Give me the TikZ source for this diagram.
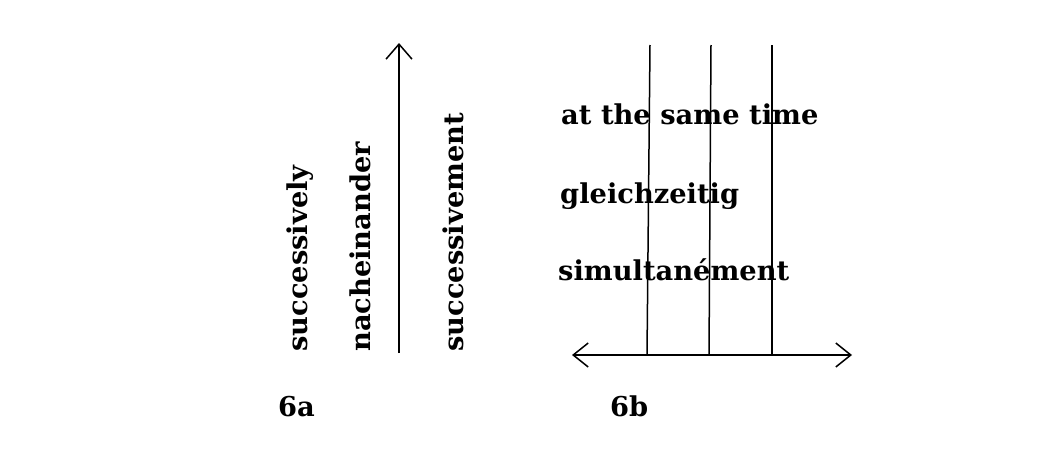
\documentclass[tikz,border=0pt]{standalone}
\usepackage{fontspec}
\setmainfont{DejaVu Serif}
\usetikzlibrary{arrows.meta}
\tikzset{
  lbl/.style={font=\bfseries\fontsize{27.3}{29}\selectfont, inner sep=0pt},
  vlbl/.style={lbl, rotate=90, anchor=base west},
  hlbl/.style={lbl, anchor=base west},
  ln/.style={line width=1.5pt},
  tip/.style={-{Straight Barb[length=15pt,width=26pt,line width=1.5pt]}},
}
\begin{document}
\begin{tikzpicture}[x=1pt,y=-1pt]
\useasboundingbox (0,0) rectangle (1042,461);
% 6a
\coordinate (a0) at (399,353);
\coordinate (a1) at (399,43);
\draw[ln,tip] (a0) -- (a1);
\node[vlbl] (s1) at (307,352) {successively};
\node[vlbl] (s2) at (370,352) {nacheinander};
\node[vlbl] (s3) at (463,352) {successivement};
\node[hlbl] (l6a) at (278,416) {6a};
% 6b
\coordinate (hl) at (572,355);
\coordinate (hr) at (852,355);
\draw[ln,{Straight Barb[length=15pt,width=24pt,line width=1.5pt]}-{Straight Barb[length=15pt,width=24pt,line width=1.5pt]}] (hl) -- (hr);
\coordinate (v1t) at (650,45); \coordinate (v1b) at (647,355);
\coordinate (v2t) at (711,45); \coordinate (v2b) at (709,355);
\coordinate (v3t) at (772,45); \coordinate (v3b) at (772,355);
\draw[ln] (v1t) -- (v1b);
\draw[ln] (v2t) -- (v2b);
\draw[ln] (v3t) -- (v3b);
\node[hlbl] (t1) at (561,124) {at the same time};
\node[hlbl] (t2) at (560,203) {gleichzeitig};
\node[hlbl] (t3) at (558,280) {simultanément};
\node[hlbl] (l6b) at (610,416) {6b};
\end{tikzpicture}
\end{document}
